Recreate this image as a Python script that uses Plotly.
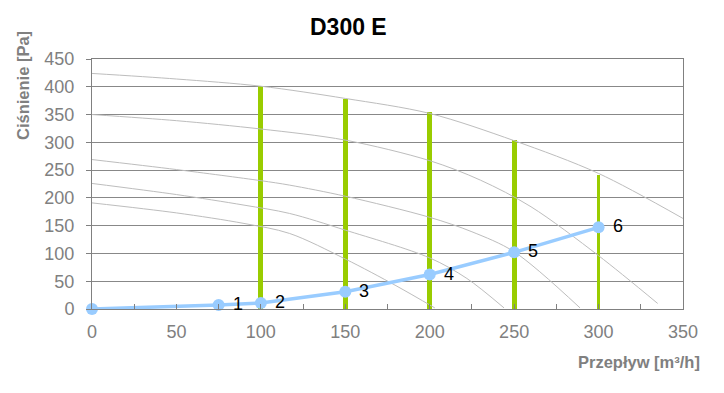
import plotly.graph_objects as go

# ---- data ----
title_text = "D300 E"
x_title = "Przepływ [m³/h]"
y_title = "Ciśnienie [Pa]"

# fan characteristic curves (grey)
curve_a_x = [0, 50, 100, 150, 200, 250, 300, 350]
curve_a_y = [424, 414, 401, 379, 352, 303, 244, 163]
curve_b_x = [0, 50, 100, 150, 200, 230, 260, 300, 335]
curve_b_y = [350, 339, 324, 304, 267, 232, 184, 96, 10]
curve_c_x = [0, 50, 100, 117, 150, 200, 225, 250, 289]
curve_c_y = [269, 251, 231, 223, 203, 165, 139, 103, 2]
curve_d_x = [0, 50, 90, 117, 150, 200, 222, 244]
curve_d_y = [226, 206, 187, 172, 142, 92, 55, 2]
curve_e_x = [0, 50, 90, 117, 150, 180, 203]
curve_e_y = [191, 173, 154, 136, 90, 42, 2]

# green bars
bar_x = [100, 150, 200, 250, 300]
bar_y = [402, 378, 354, 304, 242]

# operating points (blue)
pt_x = [0, 75, 100, 150, 200, 250, 300]
pt_y = [0, 7, 11, 31, 62, 102, 147]
pt_labels = ["", "1", "2", "3", "4", "5", "6"]

x_ticks = [0, 50, 100, 150, 200, 250, 300, 350]
y_ticks = [0, 50, 100, 150, 200, 250, 300, 350, 400, 450]

# ---- style ----
FONT = "Arial, Liberation Sans, sans-serif"
GREY = "#808080"
bar_widths = [3, 3, 3, 3, 1.8]

fig = go.Figure()

for cx, cy in [(curve_a_x, curve_a_y), (curve_b_x, curve_b_y), (curve_c_x, curve_c_y),
               (curve_d_x, curve_d_y), (curve_e_x, curve_e_y)]:
    fig.add_trace(go.Scatter(x=cx, y=cy, mode="lines",
                             line=dict(color="#bdbdbd", width=1, shape="spline", smoothing=0.9),
                             hoverinfo="skip"))

fig.add_trace(go.Bar(x=bar_x, y=bar_y, width=bar_widths, marker=dict(color="#99cc00", line=dict(width=0))))

fig.add_trace(go.Scatter(x=pt_x, y=pt_y, mode="lines+markers", cliponaxis=False,
                         line=dict(color="#99ccff", width=3.5),
                         marker=dict(color="#99ccff", size=12)))

for x, y, t in zip(pt_x, pt_y, pt_labels):
    if t:
        fig.add_annotation(x=x, y=y, text=t, showarrow=False, xanchor="left", yanchor="middle",
                           xshift=12, yshift=1, font=dict(family=FONT, size=18, color="black"))

fig.add_annotation(text="<b>" + title_text + "</b>", xref="paper", yref="paper",
                   x=(348.5 - 92) / 591, y=(309 - 27) / 250, xanchor="center", yanchor="middle",
                   showarrow=False, font=dict(family=FONT, size=23, color="black"))
fig.add_annotation(text="<b>" + y_title + "</b>", xref="paper", yref="paper",
                   x=(23 - 92) / 591, y=(309 - 86) / 250, xanchor="center", yanchor="middle",
                   textangle=-90, showarrow=False, font=dict(family=FONT, size=16.5, color=GREY))
fig.add_annotation(text="<b>" + x_title + "</b>", xref="paper", yref="paper",
                   x=(702 - 92) / 591, y=(309 - 362) / 250, xanchor="right", yanchor="middle",
                   showarrow=False, font=dict(family=FONT, size=16.5, color=GREY))

# page body adds an 8px offset; compensate so the plot area sits at x 92..683, y 59..309
fig.update_layout(
    width=716, height=385,
    margin=dict(l=84, r=41, t=51, b=84),
    paper_bgcolor="white", plot_bgcolor="white",
    showlegend=False, bargap=0,
    font=dict(family=FONT),
)
fig.update_xaxes(range=[0, 350], tickvals=x_ticks, showgrid=False, zeroline=False,
                 showline=True, linecolor=GREY, linewidth=1, mirror=True,
                 ticks="inside", ticklen=5, tickcolor=GREY,
                 minor=dict(dtick=25, ticks="inside", ticklen=5, tickcolor=GREY, showgrid=False),
                 tickfont=dict(family=FONT, size=18, color=GREY), ticklabelstandoff=6)
fig.update_yaxes(range=[0, 450], tickvals=y_ticks, showgrid=True, gridcolor="#888888", gridwidth=1,
                 zeroline=False, showline=True, linecolor=GREY, linewidth=1, mirror=True,
                 ticks="outside", ticklen=5, tickcolor=GREY,
                 tickfont=dict(family=FONT, size=18, color=GREY), ticklabelstandoff=8)

fig.write_html("out.html")
